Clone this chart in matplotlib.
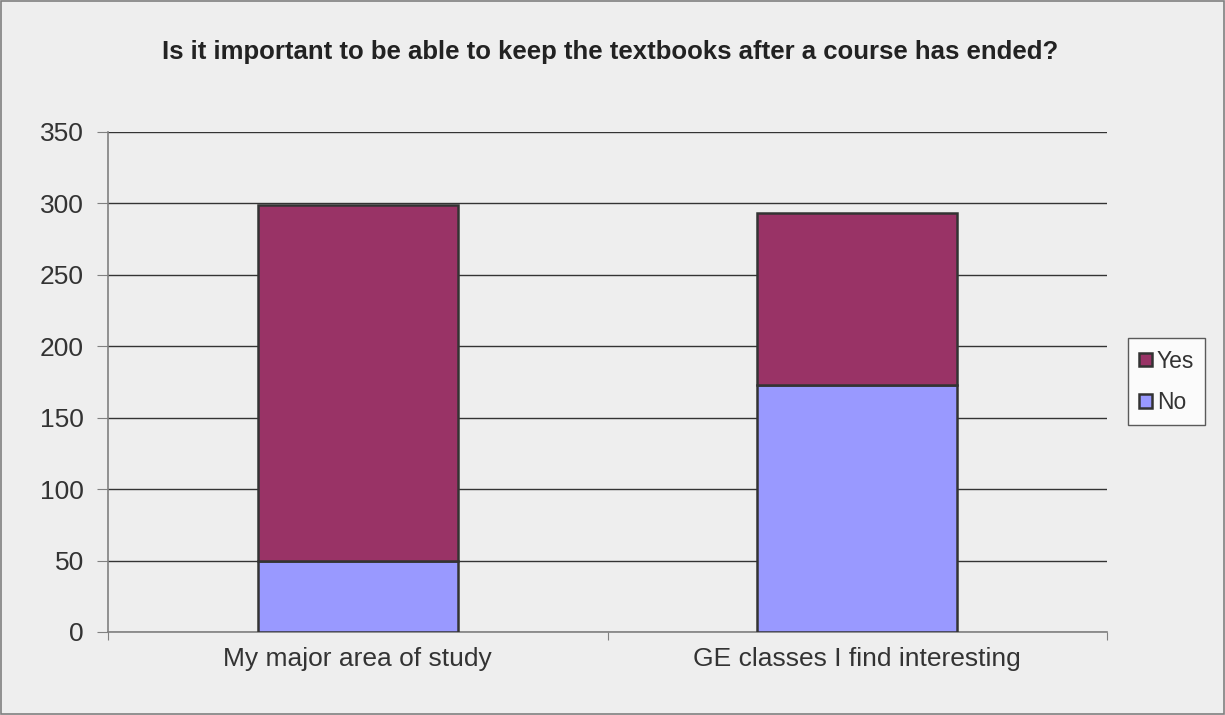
import numpy as np
import matplotlib.pyplot as plt

plt.rcParams['font.family'] = ['Liberation Sans', 'DejaVu Sans']

categories = ['My major area of study', 'GE classes I find interesting']
no_vals = [50, 173]
yes_vals = [249, 120]
y_ticks = [0, 50, 100, 150, 200, 250, 300, 350]

bg = '#EEEEEE'
txt = '#333333'
fig = plt.figure(figsize=(12.25, 7.15), dpi=100, facecolor=bg)
fig.patches.append(plt.Rectangle((0.0008, 0.0014), 0.9984, 0.997, transform=fig.transFigure,
                                 fill=False, edgecolor='#808080', linewidth=1.2))
ax = fig.add_axes([0.0882, 0.1161, 0.8155, 0.6997], facecolor=bg)

x = np.arange(len(categories))
ax.bar(x, no_vals, width=0.4, color='#9999FF', edgecolor='#333333', linewidth=1.8,
       label='No', zorder=3)
ax.bar(x, yes_vals, width=0.4, bottom=no_vals, color='#993366', edgecolor='#333333',
       linewidth=1.8, label='Yes', zorder=3)

ax.set_xlim(-0.5, 1.5)
ax.set_ylim(0, 350)
ax.set_yticks(y_ticks)
ax.yaxis.grid(True, color='#333333', linewidth=1.0, zorder=0)
ax.set_axisbelow(True)
ax.tick_params(axis='y', labelsize=19, length=8, color='#808080', labelcolor=txt, pad=9.5)

ax.set_xticks([-0.5, 0.5, 1.5])
ax.set_xticklabels([])
ax.set_xticks(x, minor=True)
ax.set_xticklabels(categories, minor=True, fontsize=19, color=txt)
ax.tick_params(axis='x', which='major', length=6, color='#808080')
ax.tick_params(axis='x', which='minor', length=0, pad=11)

for s in ['top', 'right']:
    ax.spines[s].set_visible(False)
for s in ['left', 'bottom']:
    ax.spines[s].set_color('#808080')
    ax.spines[s].set_linewidth(1.2)

fig.text(0.498, 0.927,
         'Is it important to be able to keep the textbooks after a course has ended?',
         fontsize=18.5, fontweight='bold', color='#222222', ha='center', va='center')

handles, labels = ax.get_legend_handles_labels()
leg = ax.legend(handles[::-1], labels[::-1], loc='center left', bbox_to_anchor=(1.021, 0.5),
                fontsize=16.5, frameon=True, fancybox=False, edgecolor='#333333',
                facecolor='white', handlelength=0.55, handleheight=0.55, handletextpad=0.2,
                labelspacing=0.8, borderpad=0.5, borderaxespad=0)
leg.get_frame().set_linewidth(1.0)
for t in leg.get_texts():
    t.set_color(txt)

fig.savefig('out.png', dpi=100, facecolor=bg)
